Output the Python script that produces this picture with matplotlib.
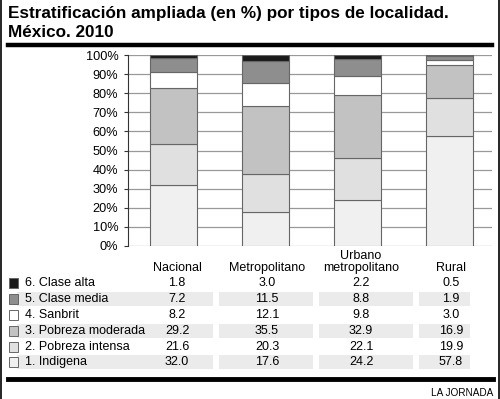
"""Estratificación ampliada por tipos de localidad, México 2010."""
import matplotlib
matplotlib.use("Agg")
import matplotlib.pyplot as plt
from matplotlib.patches import Rectangle
from matplotlib.lines import Line2D

plt.rcParams['font.family'] = ['Liberation Sans', 'DejaVu Sans']

localidades = ["Nacional", "Metropolitano", "Urbano\nmetropolitano", "Rural"]
estratos = ["1. Indigena", "2. Pobreza intensa", "3. Pobreza moderada",
            "4. Sanbrit", "5. Clase media", "6. Clase alta"]
indigena = [32.0, 17.6, 24.2, 57.8]
pobreza_intensa = [21.6, 20.3, 22.1, 19.9]
pobreza_moderada = [29.2, 35.5, 32.9, 16.9]
sanbrit = [8.2, 12.1, 9.8, 3.0]
clase_media = [7.2, 11.5, 8.8, 1.9]
clase_alta = [1.8, 3.0, 2.2, 0.5]
series = [indigena, pobreza_intensa, pobreza_moderada, sanbrit, clase_media, clase_alta]
colores = ["#f0f0f0", "#e0e0e0", "#c2c2c2", "#ffffff", "#8e8e8e", "#1a1a1a"]

W, H = 500, 399
fig = plt.figure(figsize=(5.0, 3.99), dpi=100)
fig.patch.set_facecolor("white")


def fx(px):
    return px / W


def fy(py):
    return 1 - py / H


# Title
fig.text(fx(8), fy(18), "Estratificación ampliada (en %) por tipos de localidad.",
         fontsize=12.3, fontweight="bold", va="baseline", ha="left")
fig.text(fx(8), fy(37), "México. 2010", fontsize=12.3, fontweight="bold",
         va="baseline", ha="left")
fig.add_artist(Line2D([fx(8), fx(492)], [fy(45), fy(45)], color="black", lw=3.2,
                      transform=fig.transFigure))

# Chart
ax = fig.add_axes([fx(128), fy(246), fx(492) - fx(128), fy(55) - fy(246)])
x = list(range(len(localidades)))
bottom = [0.0] * len(localidades)
for vals, col in zip(series, colores):
    ax.bar(x, vals, bottom=bottom, width=0.51, color=col, edgecolor="#666666",
           linewidth=0.8, zorder=3)
    bottom = [b + v for b, v in zip(bottom, vals)]

ax.set_ylim(0, 100)
ax.set_xlim(-0.495, 3.462)
ax.set_yticks(range(0, 101, 10))
ax.set_yticklabels([f"{t}%" for t in range(0, 101, 10)], fontsize=9.2)
ax.set_xticks([])
ax.grid(axis="y", color="#999999", lw=0.9, zorder=0)
for s in ["top", "right", "bottom"]:
    ax.spines[s].set_visible(False)
ax.spines["left"].set_color("#333333")
ax.tick_params(axis="y", length=3, width=0.8, pad=4, color="#333333")

# Table
col_x = [177, 267, 361, 451]
band_spans = [(17, 213), (219, 313), (319, 413), (419, 470)]
row_y = [362, 347, 331, 315, 299, 283]  # indigena ... clase alta
fs = 9

for i, name in enumerate(localidades):
    fig.text(fx(col_x[i]), fy(274), name, fontsize=fs, ha="center", va="bottom",
             linespacing=1.0)

for k, (name, vals, col) in enumerate(zip(estratos, series, colores)):
    yc = row_y[k]
    if k % 2 == 0:
        for a, b in band_spans:
            fig.add_artist(Rectangle((fx(a), fy(yc + 7)), fx(b) - fx(a), 14 / H,
                                     transform=fig.transFigure, facecolor="#ebebeb",
                                     edgecolor="none", zorder=0))
    fig.add_artist(Rectangle((fx(9), fy(yc + 5)), 9 / W, 10 / H,
                             transform=fig.transFigure, facecolor=col,
                             edgecolor="#666666", lw=0.7, zorder=2))
    fig.text(fx(25), fy(yc), name, fontsize=fs, ha="left", va="center", zorder=3)
    for i, v in enumerate(vals):
        fig.text(fx(col_x[i]), fy(yc), f"{v:.1f}", fontsize=fs, ha="center",
                 va="center", zorder=3)

fig.add_artist(Line2D([fx(8), fx(493)], [fy(379), fy(379)], color="black", lw=3.5,
                      transform=fig.transFigure))
fig.text(fx(493), fy(393), "LA JORNADA", fontsize=7.2, ha="right", va="center")

# side borders
for px in (0.8, 498.5):
    fig.add_artist(Line2D([fx(px), fx(px)], [0, 1], color="black", lw=1.2,
                          transform=fig.transFigure))

fig.savefig("out.png", dpi=100)
